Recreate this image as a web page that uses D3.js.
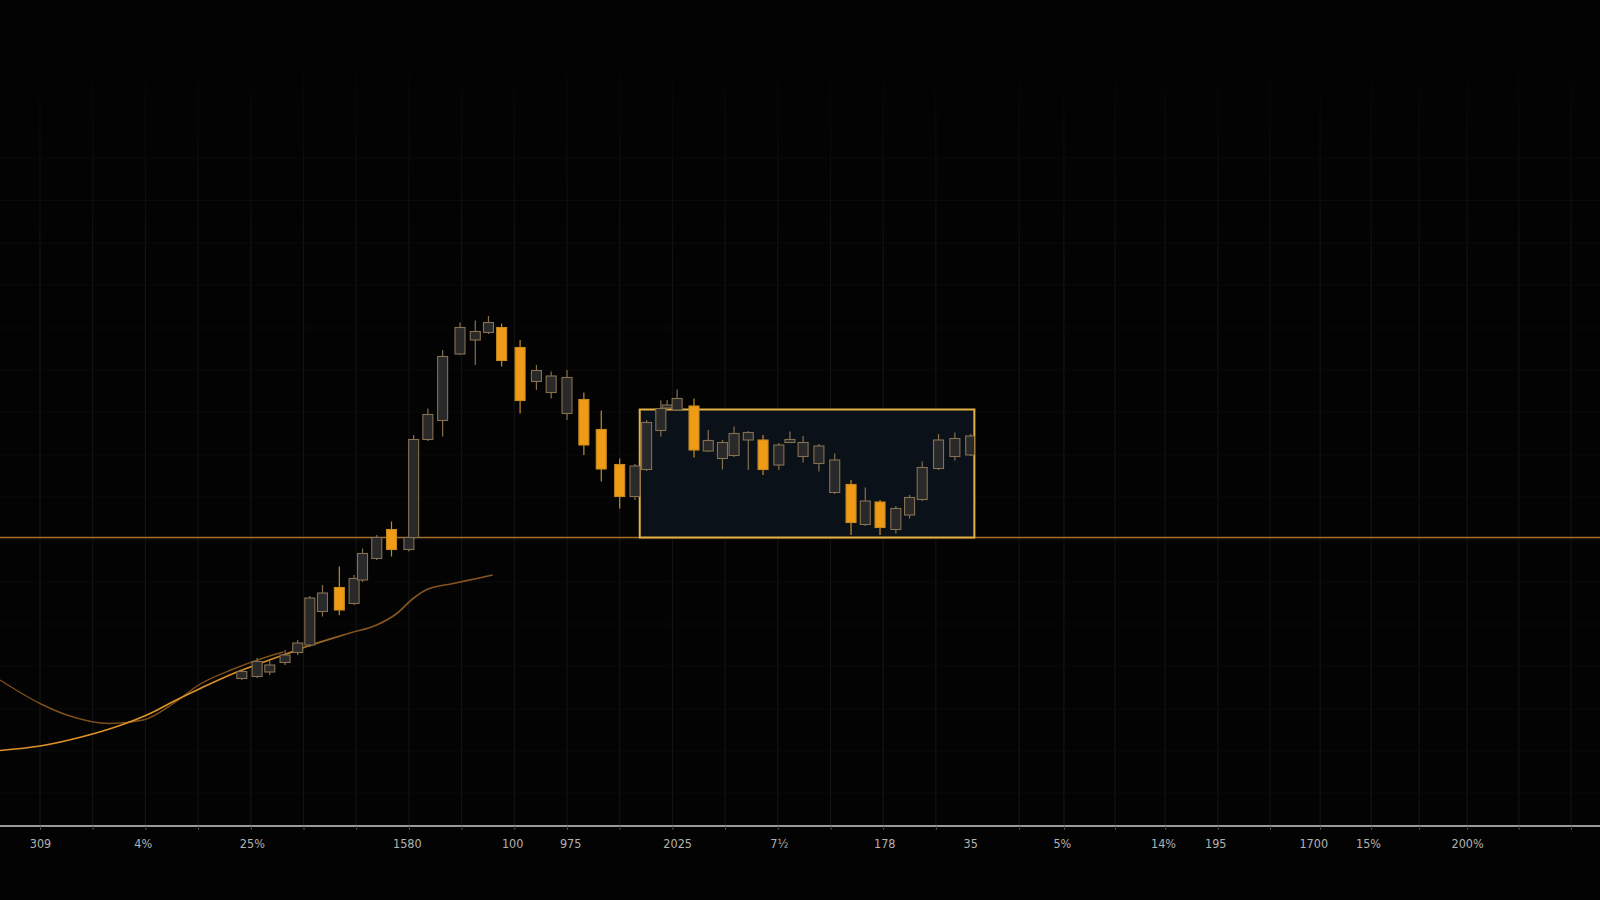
<!DOCTYPE html>
<html>
<head>
<meta charset="utf-8">
<script src="https://cdn.jsdelivr.net/npm/d3@7"></script>
<style>
  html, body { margin: 0; padding: 0; background: #040404; }
  svg { display: block; }
</style>
</head>
<body>
<script>
const width = 1600, height = 900;

// candles: [t, open, high, low, close]
const candles = [
  [3.83, 29.5, 31.4, 29.2, 30.9], [4.12, 29.9, 33.6, 29.6, 32.9], [4.36, 30.8, 33.2, 30.2, 32.2],
  [4.65, 32.7, 35.2, 32.2, 34.2], [4.89, 34.7, 37.2, 34.2, 36.6], [5.12, 36.2, 46.0, 35.8, 45.6],
  [5.36, 42.9, 48.2, 41.9, 46.6], [5.68, 47.7, 51.9, 42.2, 43.2], [5.96, 44.5, 50.2, 44.2, 49.5],
  [6.12, 49.2, 55.5, 48.8, 54.5], [6.39, 53.5, 58.2, 53.2, 57.7], [6.67, 59.3, 60.9, 53.9, 55.3],
  [7.00, 55.3, 58.2, 54.9, 57.7], [7.09, 57.7, 78.2, 57.4, 77.3], [7.36, 77.3, 83.5, 77.0, 82.3],
  [7.64, 81.1, 95.2, 77.9, 93.9], [7.97, 94.4, 100.7, 94.2, 99.7], [8.26, 97.2, 101.1, 92.2, 98.9],
  [8.51, 98.7, 102.0, 98.4, 100.7], [8.76, 99.7, 100.5, 91.9, 93.1], [9.11, 95.7, 97.2, 82.5, 85.1],
  [9.42, 88.9, 92.2, 87.2, 91.1], [9.70, 86.7, 90.9, 85.5, 90.0], [10.00, 82.5, 91.2, 81.2, 89.7],
  [10.32, 85.3, 86.7, 74.2, 76.2], [10.65, 79.3, 83.1, 68.9, 71.4], [11.00, 72.3, 73.5, 63.5, 65.9],
  [11.29, 65.9, 72.4, 65.2, 72.0], [11.51, 71.3, 81.2, 71.0, 80.7], [11.78, 79.1, 85.1, 77.9, 83.5],
  [11.90, 83.6, 85.2, 83.2, 84.2], [12.09, 83.2, 87.3, 83.0, 85.5], [12.41, 84.0, 85.5, 73.7, 75.2],
  [12.68, 75.0, 79.2, 74.8, 77.1], [12.95, 73.5, 77.2, 71.3, 76.7], [13.17, 74.1, 79.9, 73.8, 78.5],
  [13.44, 77.2, 79.0, 71.2, 78.7], [13.72, 77.2, 78.2, 70.2, 71.3], [14.02, 72.2, 76.6, 71.2, 76.2],
  [14.23, 76.7, 78.9, 76.6, 77.3], [14.48, 73.9, 78.0, 72.7, 76.7], [14.78, 72.5, 76.4, 70.9, 76.0],
  [15.08, 66.7, 74.5, 66.4, 73.2], [15.39, 68.3, 69.2, 58.2, 60.7], [15.66, 60.3, 67.7, 60.0, 65.0],
  [15.94, 64.8, 65.2, 58.2, 59.7], [16.24, 59.3, 64.0, 58.5, 63.5], [16.50, 62.2, 66.2, 61.5, 65.7],
  [16.74, 65.3, 72.9, 65.0, 71.7], [17.05, 71.5, 78.4, 71.2, 77.2], [17.36, 73.9, 78.7, 73.1, 77.5],
  [17.66, 74.2, 78.4, 74.0, 78.0]
];

// moving averages: [t, value]
const maFast = [
  [-0.76, 15.1], [0, 16.0], [0.82, 17.9], [1.46, 19.9], [2.09, 22.5], [2.53, 24.9], [3.04, 27.5],
  [3.67, 30.5], [4.17, 32.5], [4.62, 34.2], [5.12, 36.1], [5.88, 38.6], [6.39, 40.2], [6.77, 42.5],
  [7.08, 45.5], [7.34, 47.3], [7.84, 48.5], [8.29, 49.5], [8.59, 50.2]
];
const maSlow = [
  [-0.76, 29.2], [0, 24.5], [0.51, 22.2], [1.33, 20.5], [1.96, 21.2], [2.53, 24.5], [3.04, 28.4],
  [3.67, 31.4], [4.30, 33.8], [4.62, 34.8]
];

const levelP = 57.7;
const zoneT = [11.38, 17.73];
const zoneP = [57.7, 83.3];

const gridT = [0, 1, 2, 3, 4, 5, 6, 7, 8, 9, 10, 11, 12, 13, 14, 15, 16, 17,
  18.58, 19.43, 20.40, 21.35, 22.35, 23.34, 24.29, 25.26, 26.17, 27.08, 28.06, 29.05];
const gridP = [133.6, 125.1, 116.6, 108.2, 99.6, 91.2, 82.8, 74.2, 65.8, 57.3, 48.8, 40.4, 32.0, 23.4, 15.0, 6.6];

const labelT = [0, 1.95, 4.02, 6.96, 8.96, 10.06, 12.09, 14.02, 16.02, 17.65, 19.39, 21.31, 22.3, 24.16, 25.2, 27.08];
const xLabels = ["309", "4%", "25%", "1580", "100", "975", "2025", "7½", "178", "35", "5%", "14%", "195", "1700", "15%", "200%"];

const axisY = 826;

const x = d3.scaleLinear().domain([0, 29]).range([40, 40 + 29 * 52.7]);
const y = d3.scaleLinear().domain([0, 160]).range([axisY, 26]);

const svg = d3.select("body").append("svg")
  .attr("width", width)
  .attr("height", height)
  .attr("viewBox", [0, 0, width, height]);

svg.append("rect").attr("width", width).attr("height", height).attr("fill", "#030303");

const defs = svg.append("defs");

const vfade = defs.append("linearGradient")
  .attr("id", "vfade").attr("gradientUnits", "userSpaceOnUse")
  .attr("x1", 0).attr("x2", 0).attr("y1", 40).attr("y2", 260);
vfade.append("stop").attr("offset", 0).attr("stop-color", "#131313").attr("stop-opacity", 0);
vfade.append("stop").attr("offset", 1).attr("stop-color", "#131313").attr("stop-opacity", 1);

const maGrad = defs.append("linearGradient")
  .attr("id", "maGrad").attr("gradientUnits", "userSpaceOnUse")
  .attr("x1", x(4.3)).attr("x2", x(5.8)).attr("y1", 0).attr("y2", 0);
maGrad.append("stop").attr("offset", 0).attr("stop-color", "#dc9229");
maGrad.append("stop").attr("offset", 1).attr("stop-color", "#83541f");

defs.append("clipPath").attr("id", "zoneClip")
  .append("rect")
  .attr("x", 0).attr("y", 0)
  .attr("width", x(zoneT[1]))
  .attr("height", height);

// grid
svg.append("g")
  .selectAll("line")
  .data(gridP)
  .join("line")
  .attr("x1", 0).attr("x2", width)
  .attr("y1", d => y(d)).attr("y2", d => y(d))
  .attr("stroke", "#0b0b0b")
  .attr("stroke-width", 1);

svg.append("g")
  .selectAll("line")
  .data(gridT)
  .join("line")
  .attr("x1", d => x(d)).attr("x2", d => x(d))
  .attr("y1", 40).attr("y2", axisY)
  .attr("stroke", "url(#vfade)")
  .attr("stroke-width", 1.1);

// support level
svg.append("line")
  .attr("x1", 0).attr("x2", width)
  .attr("y1", y(levelP)).attr("y2", y(levelP))
  .attr("stroke", "#a86f2b")
  .attr("stroke-width", 1.3);

// consolidation zone
svg.append("rect")
  .attr("x", x(zoneT[0]))
  .attr("y", y(zoneP[1]))
  .attr("width", x(zoneT[1]) - x(zoneT[0]))
  .attr("height", y(zoneP[0]) - y(zoneP[1]))
  .attr("fill", "#0b1118")
  .attr("stroke", "#e4b244")
  .attr("stroke-width", 2);

// moving averages
const line = d3.line()
  .x(d => x(d[0]))
  .y(d => y(d[1]))
  .curve(d3.curveMonotoneX);

svg.append("path")
  .datum(maSlow)
  .attr("d", line)
  .attr("fill", "none")
  .attr("stroke", "#7e501c")
  .attr("stroke-width", 1.4);

svg.append("path")
  .datum(maFast)
  .attr("d", line)
  .attr("fill", "none")
  .attr("stroke", "url(#maGrad)")
  .attr("stroke-width", 1.7);

// candles
const bodyW = 10;
const up = d => d[4] >= d[1];

const candle = svg.append("g")
  .attr("clip-path", "url(#zoneClip)")
  .selectAll("g")
  .data(candles)
  .join("g");

candle.append("line")
  .attr("x1", d => x(d[0])).attr("x2", d => x(d[0]))
  .attr("y1", d => y(d[2])).attr("y2", d => y(d[3]))
  .attr("stroke", d => up(d) ? "#857050" : "#c98a22")
  .attr("stroke-width", 1.2);

candle.append("rect")
  .attr("x", d => x(d[0]) - bodyW / 2)
  .attr("y", d => y(Math.max(d[1], d[4])))
  .attr("width", bodyW)
  .attr("height", d => Math.max(1.5, Math.abs(y(d[1]) - y(d[4]))))
  .attr("fill", d => up(d) ? "#29292a" : "#ef9b15")
  .attr("stroke", d => up(d) ? "#857050" : "#c98a22")
  .attr("stroke-width", 1.1);

// x axis
svg.append("line")
  .attr("x1", 0).attr("x2", width)
  .attr("y1", axisY).attr("y2", axisY)
  .attr("stroke", "#9a9a9a")
  .attr("stroke-width", 2);

svg.append("g")
  .attr("transform", `translate(0,${axisY})`)
  .call(d3.axisBottom(x).tickValues(gridT).tickSize(4).tickFormat(""))
  .call(g => g.select(".domain").remove())
  .call(g => g.selectAll(".tick line").attr("stroke", "#4a4a4a"));

svg.append("g")
  .attr("transform", `translate(0,${axisY})`)
  .call(d3.axisBottom(x).tickValues(labelT).tickSize(0).tickPadding(13).tickFormat((d, i) => xLabels[i]))
  .call(g => g.select(".domain").remove())
  .call(g => g.selectAll(".tick text")
    .attr("fill", "#b2b2b2")
    .attr("font-family", "'DejaVu Sans Condensed', 'Liberation Sans Narrow', sans-serif")
    .attr("font-size", 12.5));
</script>
</body>
</html>
